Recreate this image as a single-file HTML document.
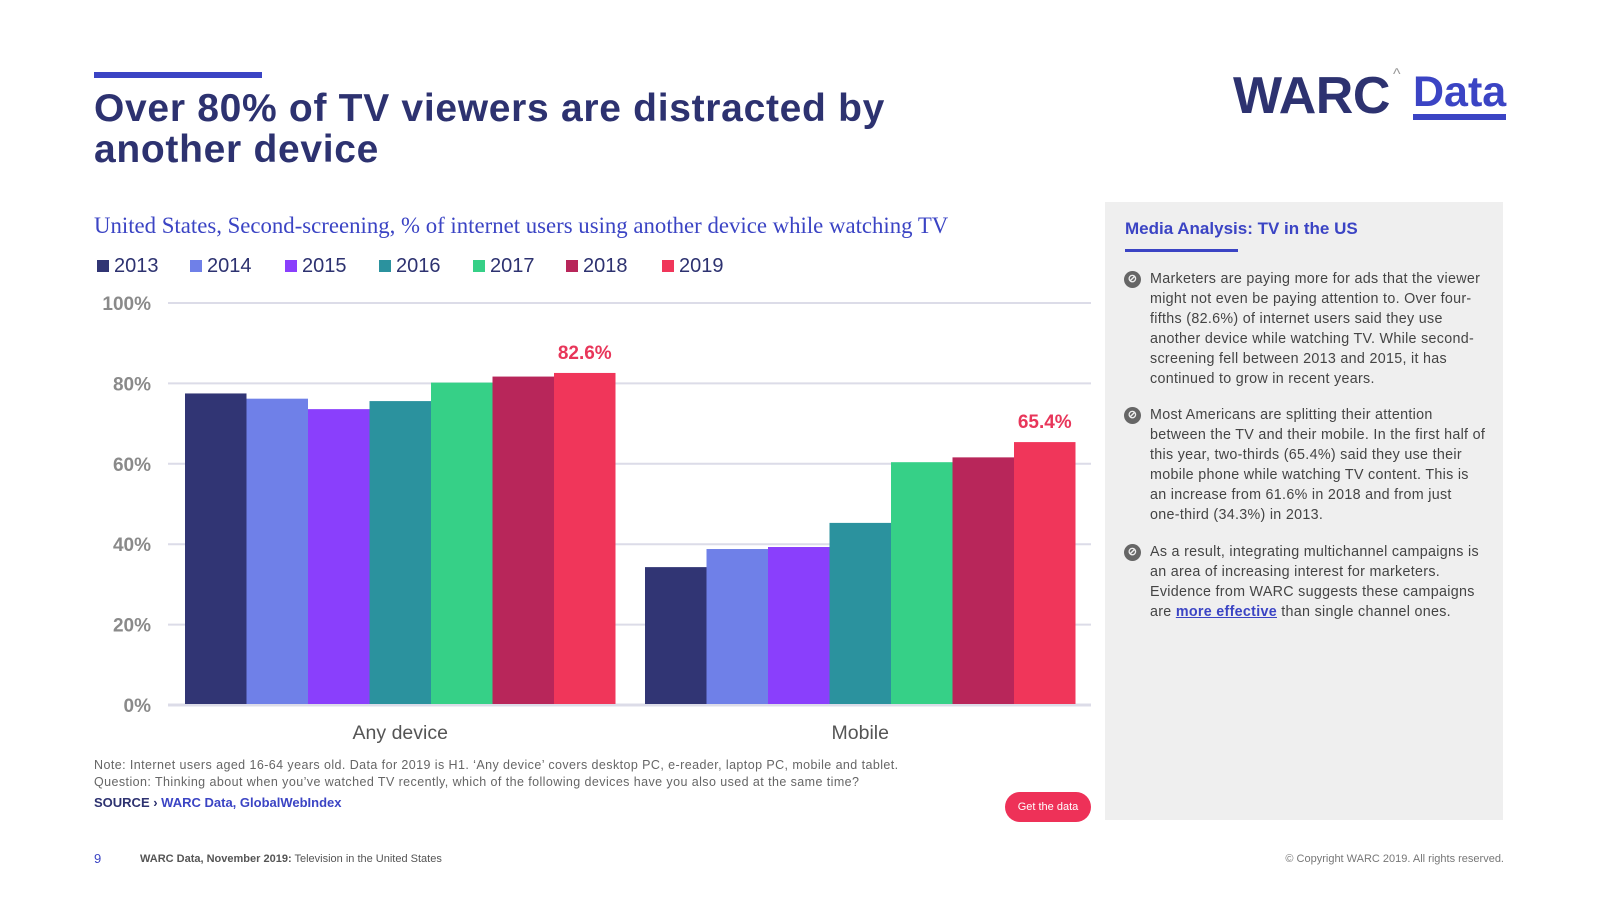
<!DOCTYPE html>
<html><head><meta charset="utf-8">
<style>
*{margin:0;padding:0;box-sizing:border-box}
body{width:1600px;height:900px;background:#fff;position:relative;overflow:hidden;font-family:"Liberation Sans",sans-serif}
.abs{position:absolute}
.title{left:94px;top:88px;font-size:39px;font-weight:bold;color:#2d3270;line-height:41px;letter-spacing:0.7px}
.sub{left:94px;top:213px;font-family:"Liberation Serif",serif;font-size:22.8px;color:#3b44c4;letter-spacing:0px}
.panel{left:1105px;top:202px;width:398px;height:618px;background:#efefef}
.ph{left:20px;top:17px;font-size:17px;font-weight:bold;color:#3b44c4}
.pu{left:20px;top:47px;width:113px;height:3px;background:#3b44c4}
.bl{left:45px;font-size:14.3px;line-height:20.1px;color:#444;width:360px;white-space:nowrap;letter-spacing:0.3px}
.bi{left:-26px;top:2px;width:17px;height:17px;border-radius:50%;background:#666;color:#efefef;font-size:11px;line-height:17px;text-align:center;font-weight:bold}
.note{left:94px;top:757px;font-size:12.5px;line-height:16.5px;color:#666;letter-spacing:0.42px;white-space:nowrap}
.src{left:94px;top:795px;font-size:13px;font-weight:bold;color:#2d3270}
.btn{left:1005px;top:792px;width:86px;height:30px;border-radius:15px;background:#ee3158;color:#fff;font-size:11px;text-align:center;line-height:30px}
.foot{top:853px;font-size:11px;color:#555}
</style></head><body>
<div class="abs" style="left:94px;top:72px;width:168px;height:6px;background:#3b44c4"></div>
<div class="abs title">Over 80% of TV viewers are distracted by<br>another device</div>
<div class="abs" style="left:1233px;top:66px;font-size:52px;font-weight:bold;color:#2d3270;letter-spacing:-0.5px;white-space:nowrap">WARC<span style="position:absolute;left:160px;top:0;font-size:16px;color:#999;font-weight:normal">^</span></div>
<div class="abs" style="left:1413px;top:70px;font-size:43px;font-weight:bold;color:#3b44c4;line-height:44px;border-bottom:6px solid #3b44c4;white-space:nowrap">Data</div>
<div class="abs sub">United States, Second-screening, % of internet users using another device while watching TV</div>
<div class="abs" id="legend" style="left:0;top:254px;width:1100px;height:26px"></div>

<svg class="abs" style="left:0;top:0" width="1110" height="760" id="chart"></svg>

<div class="abs note">Note: Internet users aged 16-64 years old. Data for 2019 is H1. ‘Any device’ covers desktop PC, e-reader, laptop PC, mobile and tablet.<br>Question: Thinking about when you’ve watched TV recently, which of the following devices have you also used at the same time?</div>
<div class="abs src">SOURCE › <span style="color:#3b44c4">WARC Data, GlobalWebIndex</span></div>
<div class="abs btn">Get the data</div>

<div class="abs panel">
<div class="abs ph">Media Analysis: TV in the US</div>
<div class="abs pu"></div>
<div class="abs bl" style="top:67px"><div class="abs bi">⊘</div>Marketers are paying more for ads that the viewer<br>might not even be paying attention to. Over four-<br>fifths (82.6%) of internet users said they use<br>another device while watching TV. While second-<br>screening fell between 2013 and 2015, it has<br>continued to grow in recent years.</div>
<div class="abs bl" style="top:203px"><div class="abs bi">⊘</div>Most Americans are splitting their attention<br>between the TV and their mobile. In the first half of<br>this year, two-thirds (65.4%) said they use their<br>mobile phone while watching TV content. This is<br>an increase from 61.6% in 2018 and from just<br>one-third (34.3%) in 2013.</div>
<div class="abs bl" style="top:340px"><div class="abs bi">⊘</div>As a result, integrating multichannel campaigns is<br>an area of increasing interest for marketers.<br>Evidence from WARC suggests these campaigns<br>are <a style="color:#3b44c4;font-weight:bold;text-decoration:underline">more effective</a> than single channel ones.</div>
</div>

<div class="abs foot" style="left:94px;color:#3b44c4;font-size:13px;top:851px">9</div>
<div class="abs foot" style="left:140px"><b>WARC Data, November 2019:</b> Television in the United States</div>
<div class="abs foot" style="right:96px;color:#777">© Copyright WARC 2019. All rights reserved.</div>

<script>
const categories = ["Any device", "Mobile"];
const years = ["2013","2014","2015","2016","2017","2018","2019"];
const colors = ["#313574","#6f80e8","#8a3ffc","#2b929e","#36d087","#b8265a","#f0365a"];
const anyDevice = [77.5, 76.2, 73.6, 75.6, 80.2, 81.7, 82.6];
const mobile = [34.3, 38.8, 39.3, 45.3, 60.4, 61.6, 65.4];
const ticks = [0, 20, 40, 60, 80, 100];
const tickLabels = ["0%","20%","40%","60%","80%","100%"];
const labelled = {0: "82.6%", 1: "65.4%"};

const series = [anyDevice, mobile];
const NS = "http://www.w3.org/2000/svg";
const svg = document.getElementById("chart");
const y0 = 705, y100 = 303, gx0 = 168, gx1 = 1091;
const groupStart = [185, 645], barW = 61.5;
const yScale = v => y0 - (v / 100) * (y0 - y100);
const xBar = (g, i) => groupStart[g] + i * barW;
function mk(tag, attrs) { const e = document.createElementNS(NS, tag); for (const k in attrs) e.setAttribute(k, attrs[k]); svg.appendChild(e); return e; }

ticks.forEach((t, i) => {
  const ln = mk("line", {x1: gx0, x2: gx1, y1: yScale(t), y2: yScale(t), stroke: "#dcdce8", "stroke-width": t === 0 ? 3 : 2});
  
  
  const tx = mk("text", {x: 151, y: yScale(t) + 7, "text-anchor": "end", "font-size": 19, "font-weight": "bold", fill: "#8a8a8a", "font-family": "Liberation Sans, sans-serif"});
  tx.textContent = tickLabels[i];
  
  
});
series.forEach((vals, g) => {
  vals.forEach((v, i) => {
    const r = mk("rect", {x: xBar(g, i), y: yScale(v), width: barW, height: yScale(0) - yScale(v) - 1, fill: colors[i]});
    
    
  });
  const last = vals.length - 1;
  const lab = mk("text", {x: xBar(g, last) + barW / 2, y: yScale(vals[last]) - 14, "text-anchor": "middle", "font-size": 19, "font-weight": "bold", fill: "#e8365a", "font-family": "Liberation Sans, sans-serif"});
  lab.textContent = labelled[g];
  
  
  const cl = mk("text", {x: xBar(g, 0) + barW * vals.length / 2, y: 739, "text-anchor": "middle", "font-size": 19.5, fill: "#555", "font-family": "Liberation Sans, sans-serif"});
  cl.textContent = categories[g];
  
  
});

const legendX = [97, 190, 285, 379, 473, 566, 662];
const leg = document.getElementById("legend");
years.forEach((y, i) => {
  const d = document.createElement("div");
  d.style.cssText = "position:absolute;top:0;left:" + legendX[i] + "px;font-size:20px;color:#2d3270;white-space:nowrap;line-height:24px";
  d.innerHTML = '<span style="display:inline-block;width:12px;height:12px;background:' + colors[i] + ';margin-right:5px"></span>' + y;
  
  
  leg.appendChild(d);
});
</script>
</body></html>
